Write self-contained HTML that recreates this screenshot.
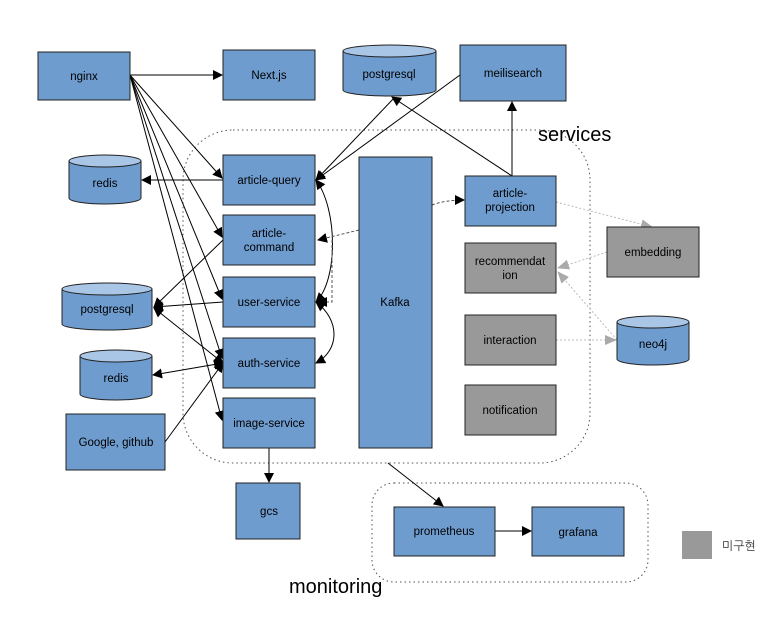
<!DOCTYPE html>
<html><head><meta charset="utf-8"><style>
body{margin:0;background:#fff;}
svg{display:block;font-family:"Liberation Sans","NanumGothic",sans-serif;}
</style></head><body>
<svg width="782" height="639" viewBox="0 0 782 639" xmlns="http://www.w3.org/2000/svg">
<defs>
<marker id="a" markerWidth="10" markerHeight="10" refX="9" refY="5" orient="auto" markerUnits="userSpaceOnUse"><path d="M0,0 L10,5 L0,10 z" fill="#000"/></marker>
<marker id="as" markerWidth="10" markerHeight="10" refX="1" refY="5" orient="auto" markerUnits="userSpaceOnUse"><path d="M10,0 L0,5 L10,10 z" fill="#000"/></marker>
<marker id="g" markerWidth="12" markerHeight="10" refX="11" refY="5" orient="auto" markerUnits="userSpaceOnUse"><path d="M0,0 L12,5 L0,10 z" fill="#aaa"/></marker>
</defs>
<g fill="none" stroke="#555" stroke-width="1" stroke-dasharray="1.5,3">
<rect x="183" y="130" width="407" height="333" rx="50"/>
<rect x="372" y="483" width="276" height="99" rx="22"/>
</g>
<text x="538" y="141" font-size="20">services</text>
<text x="289" y="593" font-size="20">monitoring</text>

<g stroke="#000" stroke-width="1" fill="none" marker-end="url(#a)">
<line x1="130" y1="75" x2="222" y2="75"/>
<line x1="130" y1="75" x2="222" y2="178"/>
<line x1="130" y1="75" x2="222" y2="237"/>
<line x1="130" y1="75" x2="222" y2="299"/>
<line x1="130" y1="75" x2="222" y2="358"/>
<line x1="130" y1="75" x2="222" y2="420"/>
<line x1="395" y1="97" x2="316" y2="180"/>
<line x1="460" y1="75" x2="316" y2="180"/>
<line x1="512" y1="176" x2="392" y2="97"/>
<line x1="512" y1="176" x2="512" y2="102"/>
<line x1="223" y1="180" x2="142" y2="180"/>
<line x1="223" y1="240" x2="154" y2="307"/>
<line x1="223" y1="302" x2="154" y2="307"/>
<line x1="223" y1="363" x2="154" y2="308" marker-start="url(#as)"/>
<line x1="223" y1="363" x2="153" y2="375" marker-start="url(#as)"/>
<line x1="165" y1="442" x2="223" y2="363"/>
<line x1="269" y1="448" x2="269" y2="482"/>
<line x1="495" y1="531" x2="531" y2="531"/>
<line x1="388" y1="463" x2="443" y2="506"/>
<path d="M316,180 C338,210 338,280 316,302" marker-start="url(#as)"/>
<path d="M316,302 C340,320 340,350 316,363" marker-start="url(#as)"/>
</g>
<g stroke="#555" stroke-width="1" fill="none" stroke-dasharray="3,2" marker-end="url(#a)">
<path d="M359,230 L318,240"/>
<path d="M332,240 L332,302 L318,302"/>
<path d="M432,205 Q445,200 464,200"/>
</g>
<g stroke="#bbb" stroke-width="1" fill="none" stroke-dasharray="2,2" marker-end="url(#g)">
<line x1="556" y1="202" x2="652" y2="227"/>
<line x1="607" y1="252" x2="558" y2="268"/>
<line x1="617" y1="340" x2="558" y2="272"/>
<line x1="556" y1="340" x2="616" y2="340"/>
</g>

<g stroke="#222" stroke-width="1" fill="#6f9ccf">
<rect x="38" y="52" width="92" height="48"/>
<rect x="223" y="50" width="92" height="50"/>
<rect x="460" y="45" width="106" height="56"/>
<rect x="223" y="155" width="92" height="50"/>
<rect x="223" y="215" width="92" height="50"/>
<rect x="223" y="277" width="92" height="50"/>
<rect x="223" y="338" width="92" height="50"/>
<rect x="223" y="398" width="92" height="50"/>
<rect x="66" y="414" width="99" height="56"/>
<rect x="236" y="483" width="64" height="56"/>
<rect x="359" y="157" width="73" height="291"/>
<rect x="465" y="176" width="91" height="50"/>
<rect x="394" y="507" width="101" height="49"/>
<rect x="532" y="507" width="92" height="49"/>
</g>
<g stroke="#222" stroke-width="1" fill="#999">
<rect x="465" y="243" width="91" height="50"/>
<rect x="465" y="315" width="91" height="50"/>
<rect x="465" y="385" width="91" height="50"/>
<rect x="607" y="227" width="92" height="50"/>
</g>
<rect x="682" y="531" width="30" height="28" fill="#999"/>

<g stroke="#222" stroke-width="1">
<path d="M343,51 V90 A46.5,6 0 0 0 436,90 V51" fill="#6f9ccf"/><ellipse cx="389.5" cy="51" rx="46.5" ry="6" fill="#a9c6e6"/>
<path d="M69,161 V198 A36,6 0 0 0 141,198 V161" fill="#6f9ccf"/><ellipse cx="105" cy="161" rx="36" ry="6" fill="#a9c6e6"/>
<path d="M62,289 V324 A45,6 0 0 0 152,324 V289" fill="#6f9ccf"/><ellipse cx="107" cy="289" rx="45" ry="6" fill="#a9c6e6"/>
<path d="M80,356 V394 A36,6 0 0 0 152,394 V356" fill="#6f9ccf"/><ellipse cx="116" cy="356" rx="36" ry="6" fill="#a9c6e6"/>
<path d="M617,322 V359 A36,6 0 0 0 689,359 V322" fill="#6f9ccf"/><ellipse cx="653" cy="322" rx="36" ry="6" fill="#a9c6e6"/>
</g>

<g font-size="11.5" fill="#000" text-anchor="middle">
<text x="84" y="80">nginx</text>
<text x="269" y="79">Next.js</text>
<text x="389" y="78">postgresql</text>
<text x="513" y="77">meilisearch</text>
<text x="105" y="187">redis</text>
<text x="269" y="184">article-query</text>
<text x="269" y="237">article-</text><text x="269" y="251">command</text>
<text x="269" y="306">user-service</text>
<text x="107" y="313">postgresql</text>
<text x="269" y="367">auth-service</text>
<text x="116" y="382">redis</text>
<text x="269" y="427">image-service</text>
<text x="116" y="446">Google, github</text>
<text x="269" y="515">gcs</text>
<text x="395" y="306">Kafka</text>
<text x="510" y="197">article-</text><text x="510" y="211">projection</text>
<text x="510" y="265">recommendat</text><text x="510" y="279">ion</text>
<text x="510" y="344">interaction</text>
<text x="510" y="414">notification</text>
<text x="653" y="256">embedding</text>
<text x="653" y="348">neo4j</text>
<text x="444" y="535">prometheus</text>
<text x="578" y="536">grafana</text>
</g>
<text x="722" y="550" font-size="12" fill="#333">미구현</text>
</svg>
</body></html>
